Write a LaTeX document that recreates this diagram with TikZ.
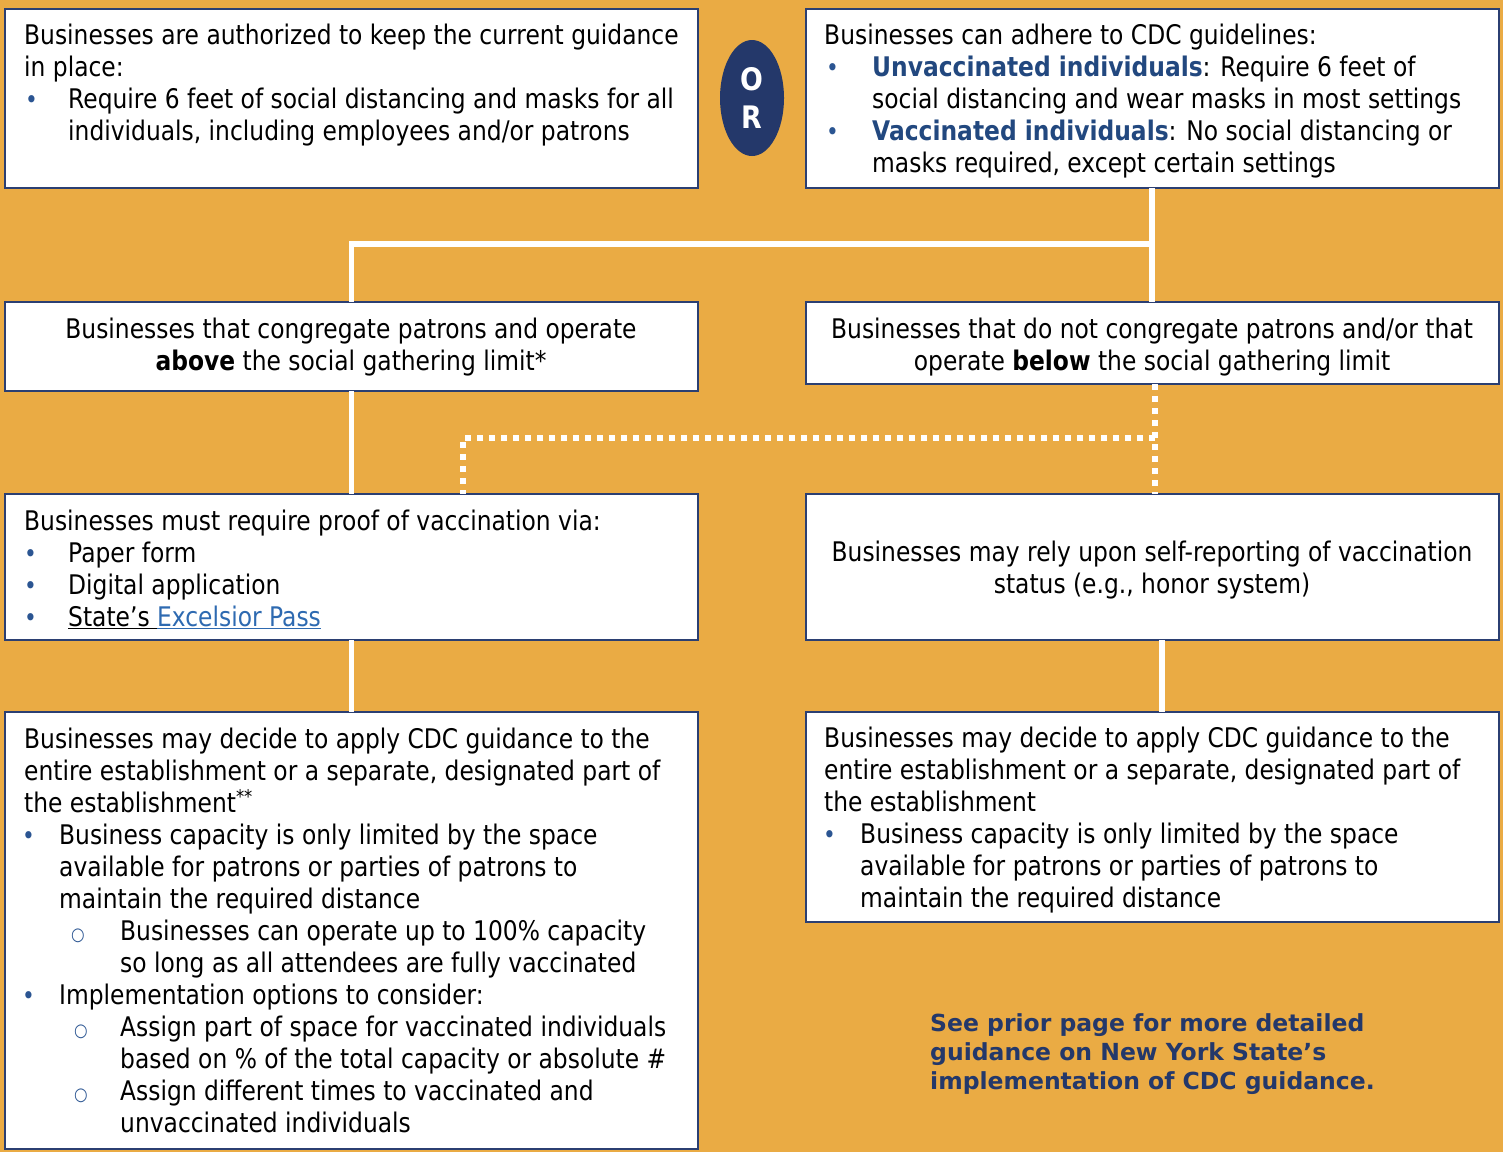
\documentclass[tikz,border=0pt]{standalone}
\usepackage{fontspec}
\setmainfont{DejaVu Sans}[FakeStretch=0.866]
\newfontfamily\notefont{DejaVu Sans}[FakeStretch=1.0]
\usetikzlibrary{shapes.geometric}
\definecolor{bg}{HTML}{EAAB44}
\definecolor{navy}{HTML}{24386A}
\definecolor{boxline}{HTML}{2B3F72}
\definecolor{hblue}{HTML}{22487F}
\definecolor{bulc}{HTML}{2B5592}
\definecolor{link}{HTML}{2E6AB1}
\newcommand\mybul{{\fontsize{25}{25}\selectfont\textcolor{bulc}{•}}}
\newcommand\mysub{{\fontsize{18}{18}\selectfont\raisebox{0pt}{\textcolor{bulc}{○}}}}
\newcommand\BL[3]{\makebox[#1][l]{\hspace*{#2}\mybul}#3}
\newcommand\SL[3]{\makebox[#1][l]{\hspace*{#2}\mysub}#3}
\begin{document}
\begin{tikzpicture}[x=1pt,y=-1pt,
  box/.style={draw=boxline,line width=2pt,fill=white,inner sep=0,outer sep=0},
  txt/.style={anchor=north west,inner sep=0,align=left,font=\fontsize{27}{32}\selectfont},
  ctxt/.style={anchor=north,inner sep=0,align=center,font=\fontsize{27}{32}\selectfont},
  conn/.style={draw=white,line width=5.5pt},
  dconn/.style={draw=white,line width=6pt,dash pattern=on 6pt off 6pt}]
\fill[bg] (0,0) rectangle (1503,1152);
\useasboundingbox (0,0) rectangle (1503,1152);
% boxes
\node[box,minimum width=693,minimum height=179] (A) at (351.5,98.5) {};
\node[box,minimum width=693,minimum height=179] (B) at (1152.5,98.5) {};
\node[box,minimum width=693,minimum height=89] (C) at (351.5,346.5) {};
\node[box,minimum width=693,minimum height=82] (D) at (1152.5,343) {};
\node[box,minimum width=693,minimum height=146] (E) at (351.5,567) {};
\node[box,minimum width=693,minimum height=146] (F) at (1152.5,567) {};
\node[box,minimum width=693,minimum height=437] (G) at (351.5,930.5) {};
\node[box,minimum width=693,minimum height=210] (H) at (1152.5,817) {};
% OR
\node[ellipse,fill=navy,minimum width=64,minimum height=116,inner sep=0,text=white,align=center,
  font=\fontsize{31}{38}\selectfont\bfseries] (or) at (752,98) {O\\R};
% connectors
\coordinate (j1) at (1152,244);
\draw[conn] (B.south -| j1) -- (D.north -| j1);
\draw[conn] (j1) -- (j1 -| C.north) -- (C.north);
\draw[conn] (C.south) -- (E.north);
\draw[conn] (E.south) -- (G.north);
\coordinate (j2) at (1155,438);
\coordinate (j3) at (463,438);
\draw[dconn] (D.south -| j2) -- (F.north -| j2);
\draw[dconn] (j2) -- (j3) -- (E.north -| j3);
\coordinate (j4) at (1162,700);
\draw[conn] (F.south -| j4) -- (H.north -| j4);
% texts
\node[txt] (tA) at (24,21.6) {\strut Businesses are authorized to keep the current guidance\\
in place:\\
\BL{44pt}{1pt}{Require 6 feet of social distancing and masks for all}\\
\hspace*{44pt}individuals, including employees and/or patrons};
\node[txt] (tB) at (824,21.6) {\strut Businesses can adhere to CDC guidelines:\\
\BL{48pt}{2pt}{\textcolor{hblue}{\bfseries Unvaccinated individuals}: Require 6 feet of}\\
\hspace*{48pt}social distancing and wear masks in most settings\\
\BL{48pt}{2pt}{\textcolor{hblue}{\bfseries Vaccinated individuals}: No social distancing or}\\
\hspace*{48pt}masks required, except certain settings};
\node[ctxt] (tC) at (351,315.6) {\strut Businesses that congregate patrons and operate\\
\textbf{above} the social gathering limit*};
\node[ctxt] (tD) at (1152,315.6) {\strut Businesses that do not congregate patrons and/or that\\
operate \textbf{below} the social gathering limit};
\node[txt] (tE) at (24,507.6) {\strut Businesses must require proof of vaccination via:\\
\BL{44pt}{0pt}{Paper form}\\
\BL{44pt}{0pt}{Digital application}\\
\BL{44pt}{0pt}{\underline{State’s }\textcolor{link}{\underline{Excelsior Pass}}}};
\node[ctxt] (tF) at (1152,538.6) {\strut Businesses may rely upon self-reporting of vaccination\\
status (e.g., honor system)};
\node[txt] (tG) at (24,725.6) {\strut Businesses may decide to apply CDC guidance to the\\
entire establishment or a separate, designated part of\\
the establishment\textsuperscript{**}\\
\BL{35pt}{-2pt}{Business capacity is only limited by the space}\\
\hspace*{35pt}available for patrons or parties of patrons to\\
\hspace*{35pt}maintain the required distance\\
\SL{96pt}{47pt}{Businesses can operate up to 100\% capacity}\\
\hspace*{96pt}so long as all attendees are fully vaccinated\\
\BL{35pt}{-2pt}{Implementation options to consider:}\\
\SL{96pt}{50pt}{Assign part of space for vaccinated individuals}\\
\hspace*{96pt}based on \% of the total capacity or absolute \#\\
\SL{96pt}{50pt}{Assign different times to vaccinated and}\\
\hspace*{96pt}unvaccinated individuals};
\node[txt] (tH) at (824,724.6) {\strut Businesses may decide to apply CDC guidance to the\\
entire establishment or a separate, designated part of\\
the establishment\\
\BL{36pt}{-1pt}{Business capacity is only limited by the space}\\
\hspace*{36pt}available for patrons or parties of patrons to\\
\hspace*{36pt}maintain the required distance};
\node[anchor=north west,inner sep=0,align=left,text=navy,
  font=\notefont\fontsize{23.5}{29}\selectfont\bfseries] (note) at (930,1010.7) {\strut See prior page for more detailed\\
guidance on New York State’s\\
implementation of CDC guidance.};
\end{tikzpicture}
\end{document}
